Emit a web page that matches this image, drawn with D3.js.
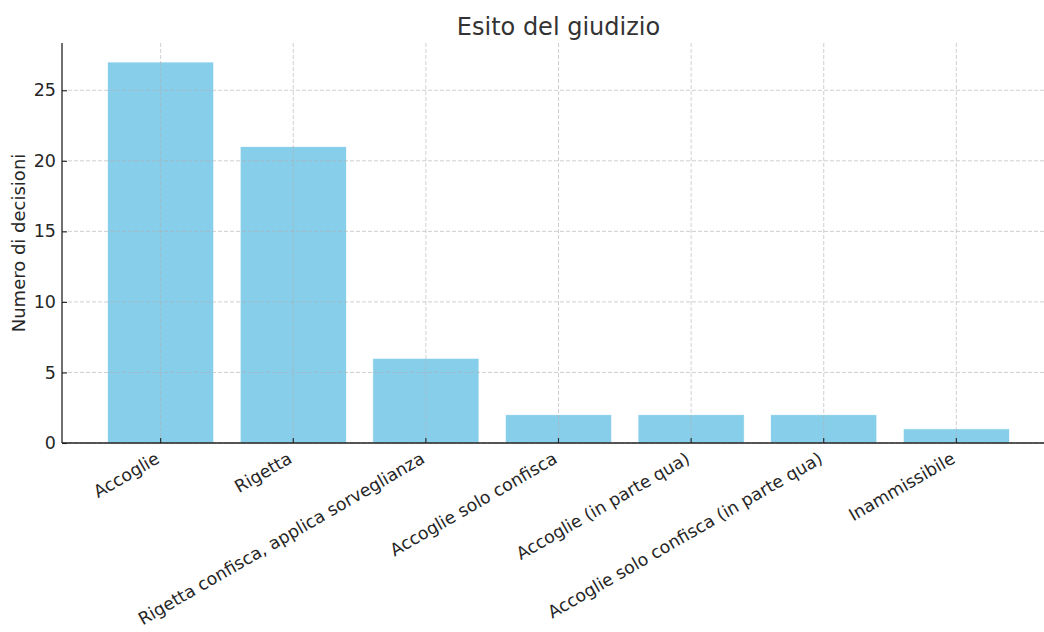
<!DOCTYPE html>
<html><head><meta charset="utf-8">
<script src="https://cdn.jsdelivr.net/npm/d3@7"></script>
<style>
body{margin:0;background:#fff;}
text{font-family:"DejaVu Sans",sans-serif;}
</style></head>
<body>
<svg id="c" width="1044" height="632"></svg>
<script>
const categories = ["Accoglie","Rigetta","Rigetta confisca, applica sorveglianza","Accoglie solo confisca","Accoglie (in parte qua)","Accoglie solo confisca (in parte qua)","Inammissibile"];
const values = [27,21,6,2,2,2,1];
const yTicks = [0,5,10,15,20,25];
const title = "Esito del giudizio";
const yLabel = "Numero di decisioni";

(function(){
const svg = d3.select("#c");
const mLeft = 62, mBottom = 443, mTop = 43, mRight = 1055;
const x = d3.scaleBand().domain(categories).range([mLeft, mRight]).paddingInner(0.2).paddingOuter(0.344);
const y = d3.scaleLinear().domain([0, d3.max(values)*1.05]).range([mBottom, mTop]);

// bars
svg.append("g").selectAll("rect").data(categories).join("rect")
  .attr("x", d => x(d)).attr("width", x.bandwidth())
  .attr("y", (d,i) => y(values[i])).attr("height", (d,i) => mBottom - y(values[i]))
  .attr("fill", "#87CEEB").attr("stroke", "#fff").attr("stroke-width", 0.6);

// grid
const grid = svg.append("g").attr("stroke", "#b0b0b0").attr("stroke-opacity", 0.6)
  .attr("stroke-width", 1).attr("stroke-dasharray", "4,2");
grid.selectAll(".gy").data(yTicks).join("line")
  .attr("x1", mLeft).attr("x2", mRight).attr("y1", d => y(d)).attr("y2", d => y(d));
grid.selectAll(".gx").data(categories).join("line")
  .attr("x1", d => x(d) + x.bandwidth()/2).attr("x2", d => x(d) + x.bandwidth()/2)
  .attr("y1", mTop).attr("y2", mBottom);

// y axis
const yAxis = d3.axisLeft(y).tickValues(yTicks).tickSize(-5).tickPadding(6);
const gy = svg.append("g").attr("transform", `translate(${mLeft},0)`).call(yAxis);
gy.select(".domain").attr("d", `M0,${mTop}V${mBottom}`).attr("stroke", "#222").attr("stroke-width", 1.3);
gy.selectAll(".tick line").attr("stroke", "#222").attr("stroke-width", 1.1);
gy.selectAll(".tick text").attr("font-size", 17.5).attr("fill", "#262626");

// x axis
const xAxis = d3.axisBottom(x).tickSize(-5).tickPadding(0);
const gx = svg.append("g").attr("transform", `translate(0,${mBottom})`).call(xAxis);
gx.select(".domain").attr("d", `M${mLeft},0H${mRight}`).attr("stroke", "#222").attr("stroke-width", 1.3);
gx.selectAll(".tick line").attr("stroke", "#222").attr("stroke-width", 1.1);
gx.selectAll(".tick text").attr("font-size", 17.3).attr("fill", "#262626")
  .attr("text-anchor", "end").attr("dy", null).attr("y", 19).attr("x", 0)
  .attr("transform", "rotate(-30,0,19)");

// title
svg.append("text").attr("x", (mLeft + mRight)/2).attr("y", 35).attr("text-anchor", "middle")
  .attr("font-size", 24).attr("fill", "#333").text(title);

// y label
svg.append("text").attr("transform", `translate(25,${(mTop+mBottom)/2}) rotate(-90)`)
  .attr("text-anchor", "middle").attr("font-size", 18).attr("fill", "#262626").text(yLabel);
})();
</script>
</body></html>
